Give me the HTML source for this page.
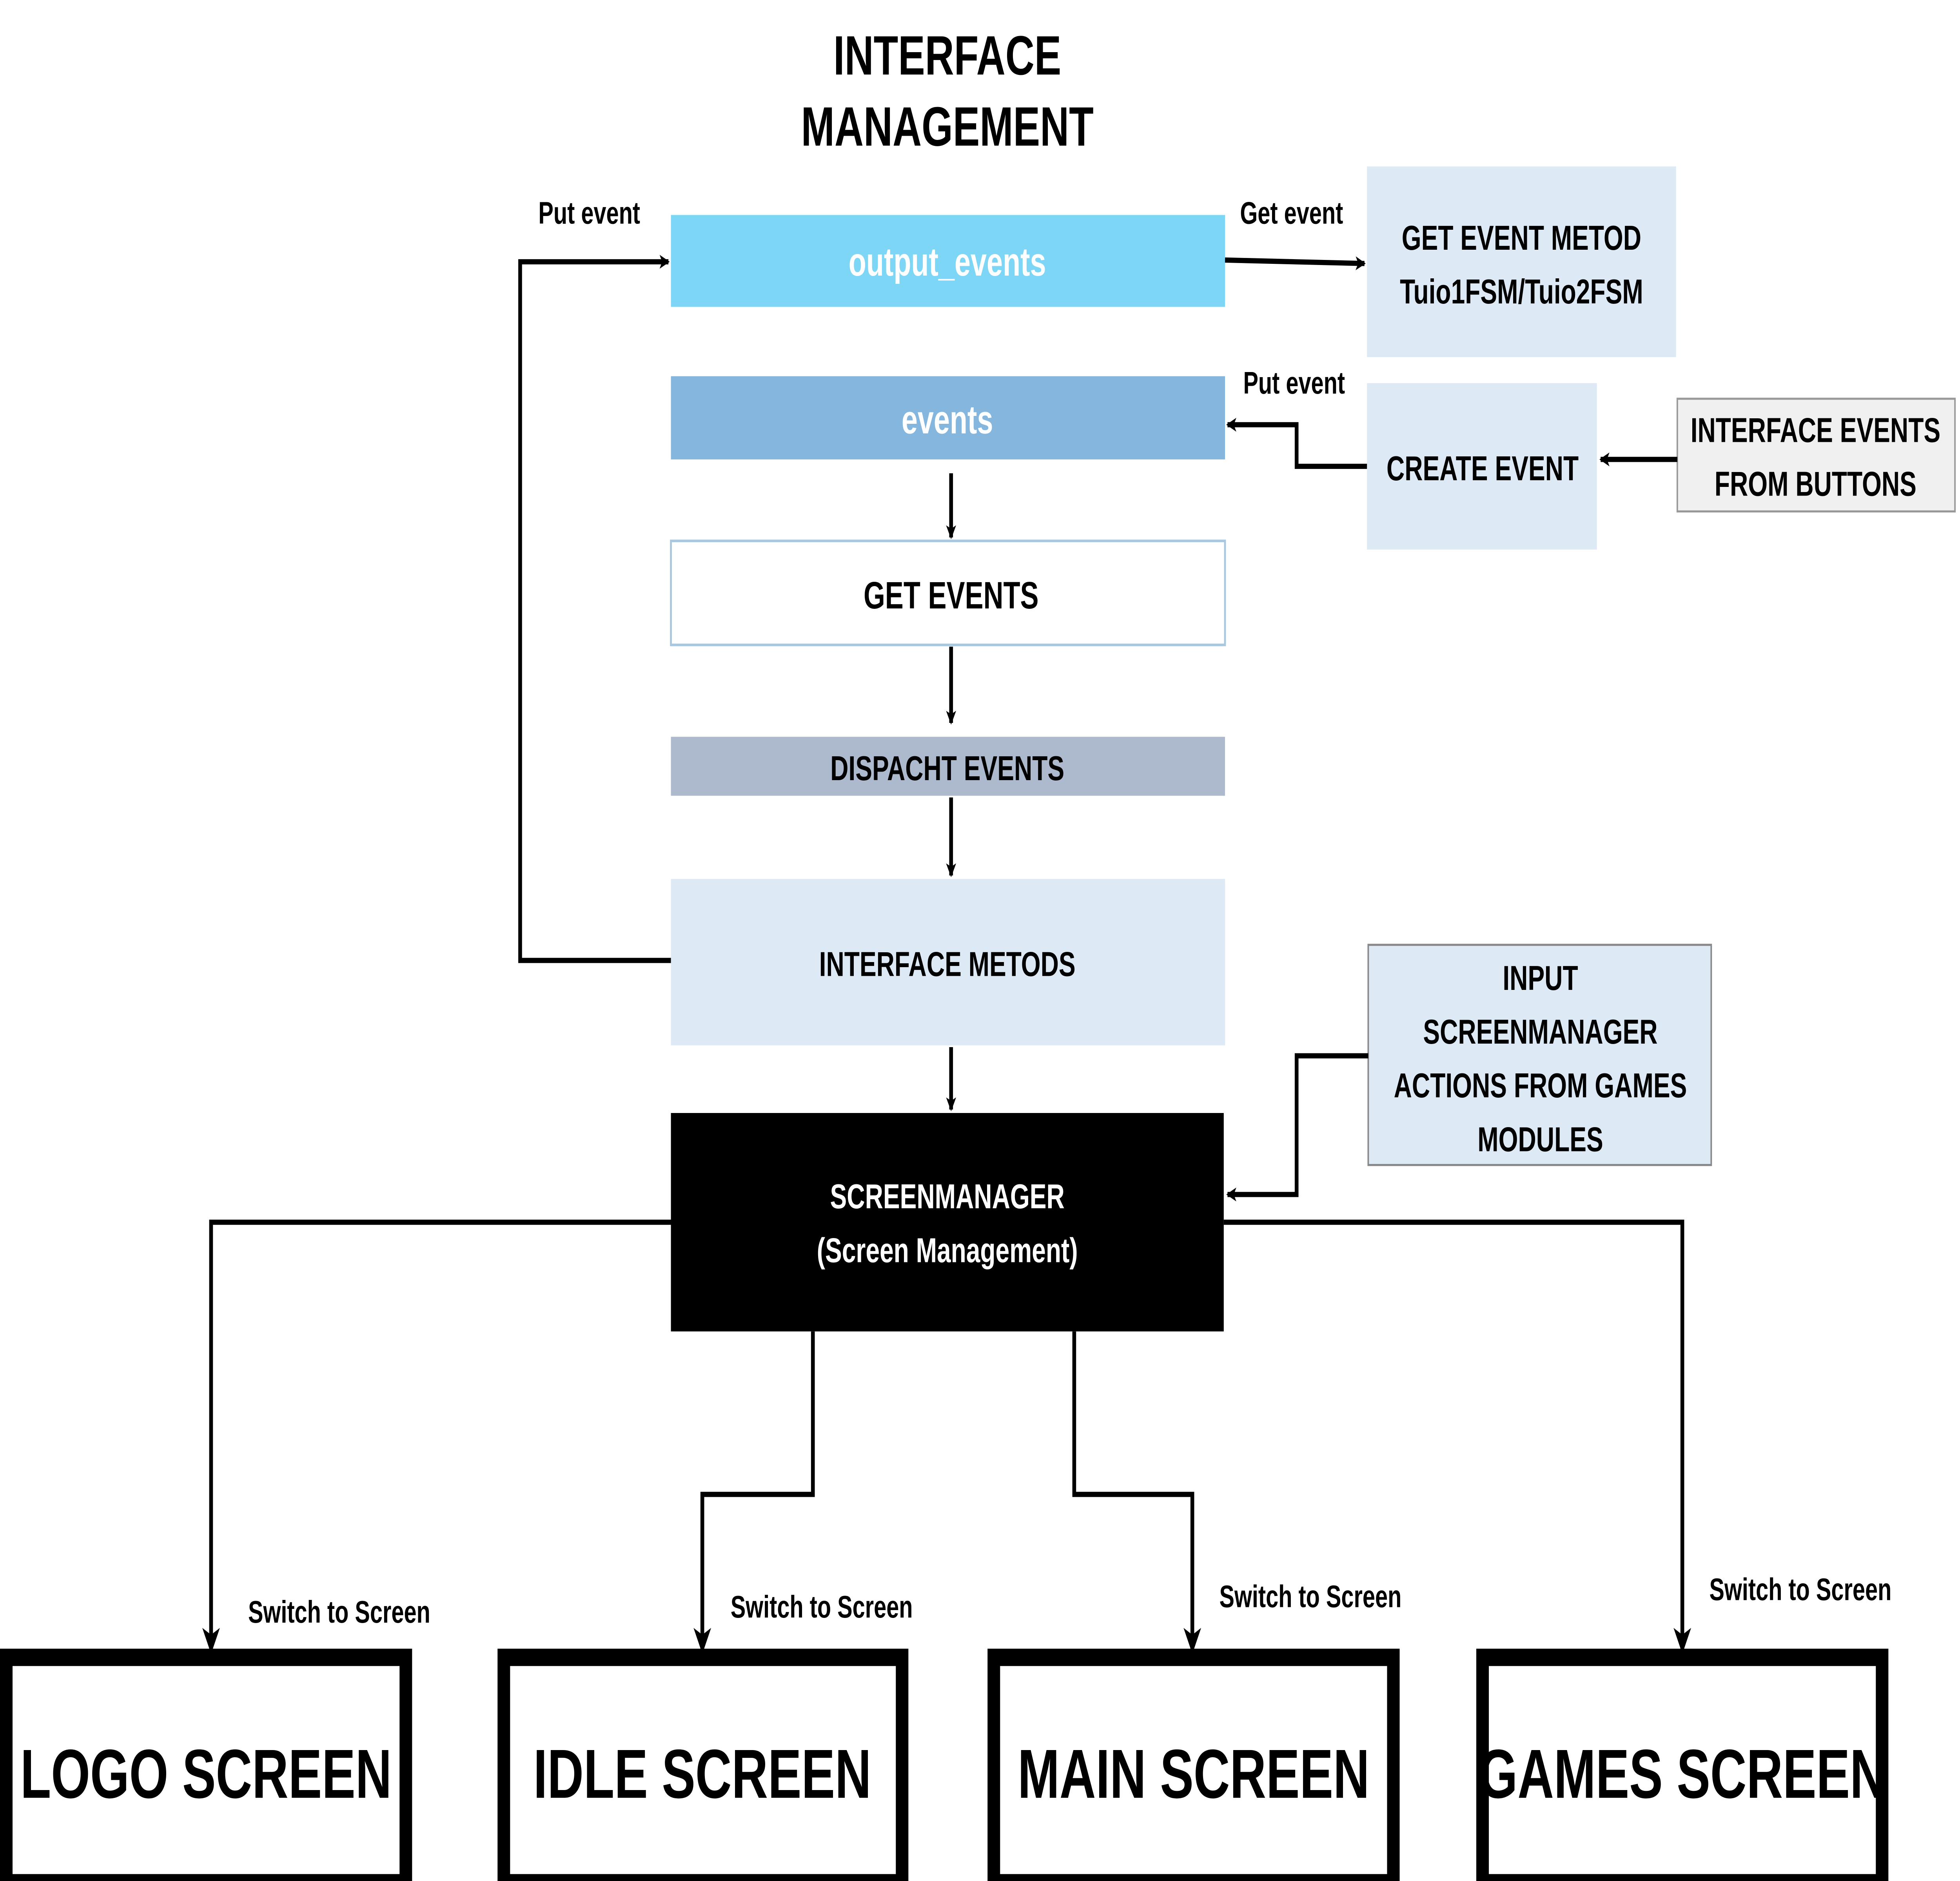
<!DOCTYPE html>
<html><head><meta charset="utf-8"><style>
html,body{margin:0;padding:0;background:#fff;width:100%;height:100%;overflow:hidden;}
svg{display:block;position:fixed;left:0;top:0;width:100%;height:100%;}
text{font-family:"Liberation Sans",sans-serif;}
</style></head><body>
<svg viewBox="0 0 1560 1085" preserveAspectRatio="none" xmlns="http://www.w3.org/2000/svg">
<defs>
<marker id="a" markerWidth="8" markerHeight="8" refX="7" refY="4" orient="auto" markerUnits="userSpaceOnUse" viewBox="0 0 8 8">
<path d="M0,0 L8,4 L0,8 L2,4 z" fill="#000"/></marker>
<marker id="b" markerWidth="16" markerHeight="16" refX="14" refY="8" orient="auto" markerUnits="userSpaceOnUse" viewBox="0 0 16 16">
<path d="M0,1 L15,8 L0,15 L4,8 z" fill="#000"/></marker>
</defs>
<g font-weight="bold" text-anchor="middle">
<text x="754" y="43" font-size="32">INTERFACE</text>
<text x="754" y="84" font-size="32">MANAGEMENT</text>
</g>
<rect x="534" y="124" width="441" height="53" fill="#7dd6f5"/>
<rect x="534" y="217" width="441" height="48" fill="#84b6de"/>
<rect x="534" y="312" width="441" height="60" fill="#fff" stroke="#a8c8e0" stroke-width="1.5"/>
<rect x="534" y="425" width="441" height="34" fill="#adb9cc"/>
<rect x="534" y="507" width="441" height="96" fill="#dde9f5"/>
<rect x="534" y="642" width="440" height="126" fill="#000"/>
<rect x="1088" y="96" width="246" height="110" fill="#dde9f5"/>
<rect x="1088" y="221" width="183" height="96" fill="#dde9f5"/>
<rect x="1335" y="230" width="221" height="65" fill="#f0f0f0" stroke="#999" stroke-width="1.2"/>
<rect x="1089" y="545" width="273" height="127" fill="#dde9f5" stroke="#888" stroke-width="1.2"/>
<g fill="#fff" stroke="#000" stroke-width="10">
<rect x="5" y="956" width="318" height="130"/>
<rect x="401" y="956" width="317" height="130"/>
<rect x="791" y="956" width="318" height="130"/>
<rect x="1180" y="956" width="318" height="130"/>
</g>
<g fill="none" stroke="#000" stroke-width="3">
<path d="M534,554 H414 V151 H532" marker-end="url(#a)"/>
<path d="M975,150 L1086,152" marker-end="url(#a)"/>
<path d="M1088,269 H1032 V245 H977" marker-end="url(#a)"/>
<path d="M1335,265 H1274" marker-end="url(#a)"/>
<path d="M1089,609 H1032 V689 H977" marker-end="url(#a)"/>
<path d="M757,273 V310" marker-end="url(#a)"/>
<path d="M757,373 V417" marker-end="url(#a)"/>
<path d="M757,460 V505" marker-end="url(#a)"/>
<path d="M757,604 V640" marker-end="url(#a)"/>
<path d="M534,705 H168 V953" marker-end="url(#b)"/>
<path d="M647,768 V862 H559 V953" marker-end="url(#b)"/>
<path d="M855,768 V862 H949 V953" marker-end="url(#b)"/>
<path d="M974,705 H1339 V953" marker-end="url(#b)"/>
</g>
<g text-anchor="middle" font-weight="bold">
<text x="754" y="159" font-size="23" fill="#fff">output_events</text>
<text x="754" y="250" font-size="23" fill="#fff">events</text>
<text x="757" y="351" font-size="22">GET EVENTS</text>
<text x="754" y="450" font-size="20">DISPACHT EVENTS</text>
<text x="754" y="563" font-size="20">INTERFACE METODS</text>
<text x="754" y="697" font-size="20" fill="#fff">SCREENMANAGER</text>
<text x="754" y="728" font-size="20" fill="#fff">(Screen Management)</text>
<text x="1211" y="144" font-size="20">GET EVENT METOD</text>
<text x="1211" y="175" font-size="20">Tuio1FSM/Tuio2FSM</text>
<text x="1180" y="277" font-size="20">CREATE EVENT</text>
<text x="1445" y="255" font-size="20">INTERFACE EVENTS</text>
<text x="1445" y="286" font-size="20">FROM BUTTONS</text>
<text x="1226" y="571" font-size="20">INPUT</text>
<text x="1226" y="602" font-size="20">SCREENMANAGER</text>
<text x="1226" y="633" font-size="20">ACTIONS FROM GAMES</text>
<text x="1226" y="664" font-size="20">MODULES</text>
<text x="469" y="129" font-size="18">Put event</text>
<text x="1028" y="129" font-size="18">Get event</text>
<text x="1030" y="227" font-size="18">Put event</text>
<text x="270" y="936" font-size="18">Switch to Screen</text>
<text x="654" y="933" font-size="18">Switch to Screen</text>
<text x="1043" y="927" font-size="18">Switch to Screen</text>
<text x="1433" y="923" font-size="18">Switch to Screen</text>
<text x="164" y="1037" font-size="40">LOGO SCREEN</text>
<text x="559" y="1037" font-size="40">IDLE SCREEN</text>
<text x="950" y="1037" font-size="40">MAIN SCREEN</text>
<text x="1339" y="1037" font-size="40">GAMES SCREEN</text>
</g>
</svg>
</body></html>
